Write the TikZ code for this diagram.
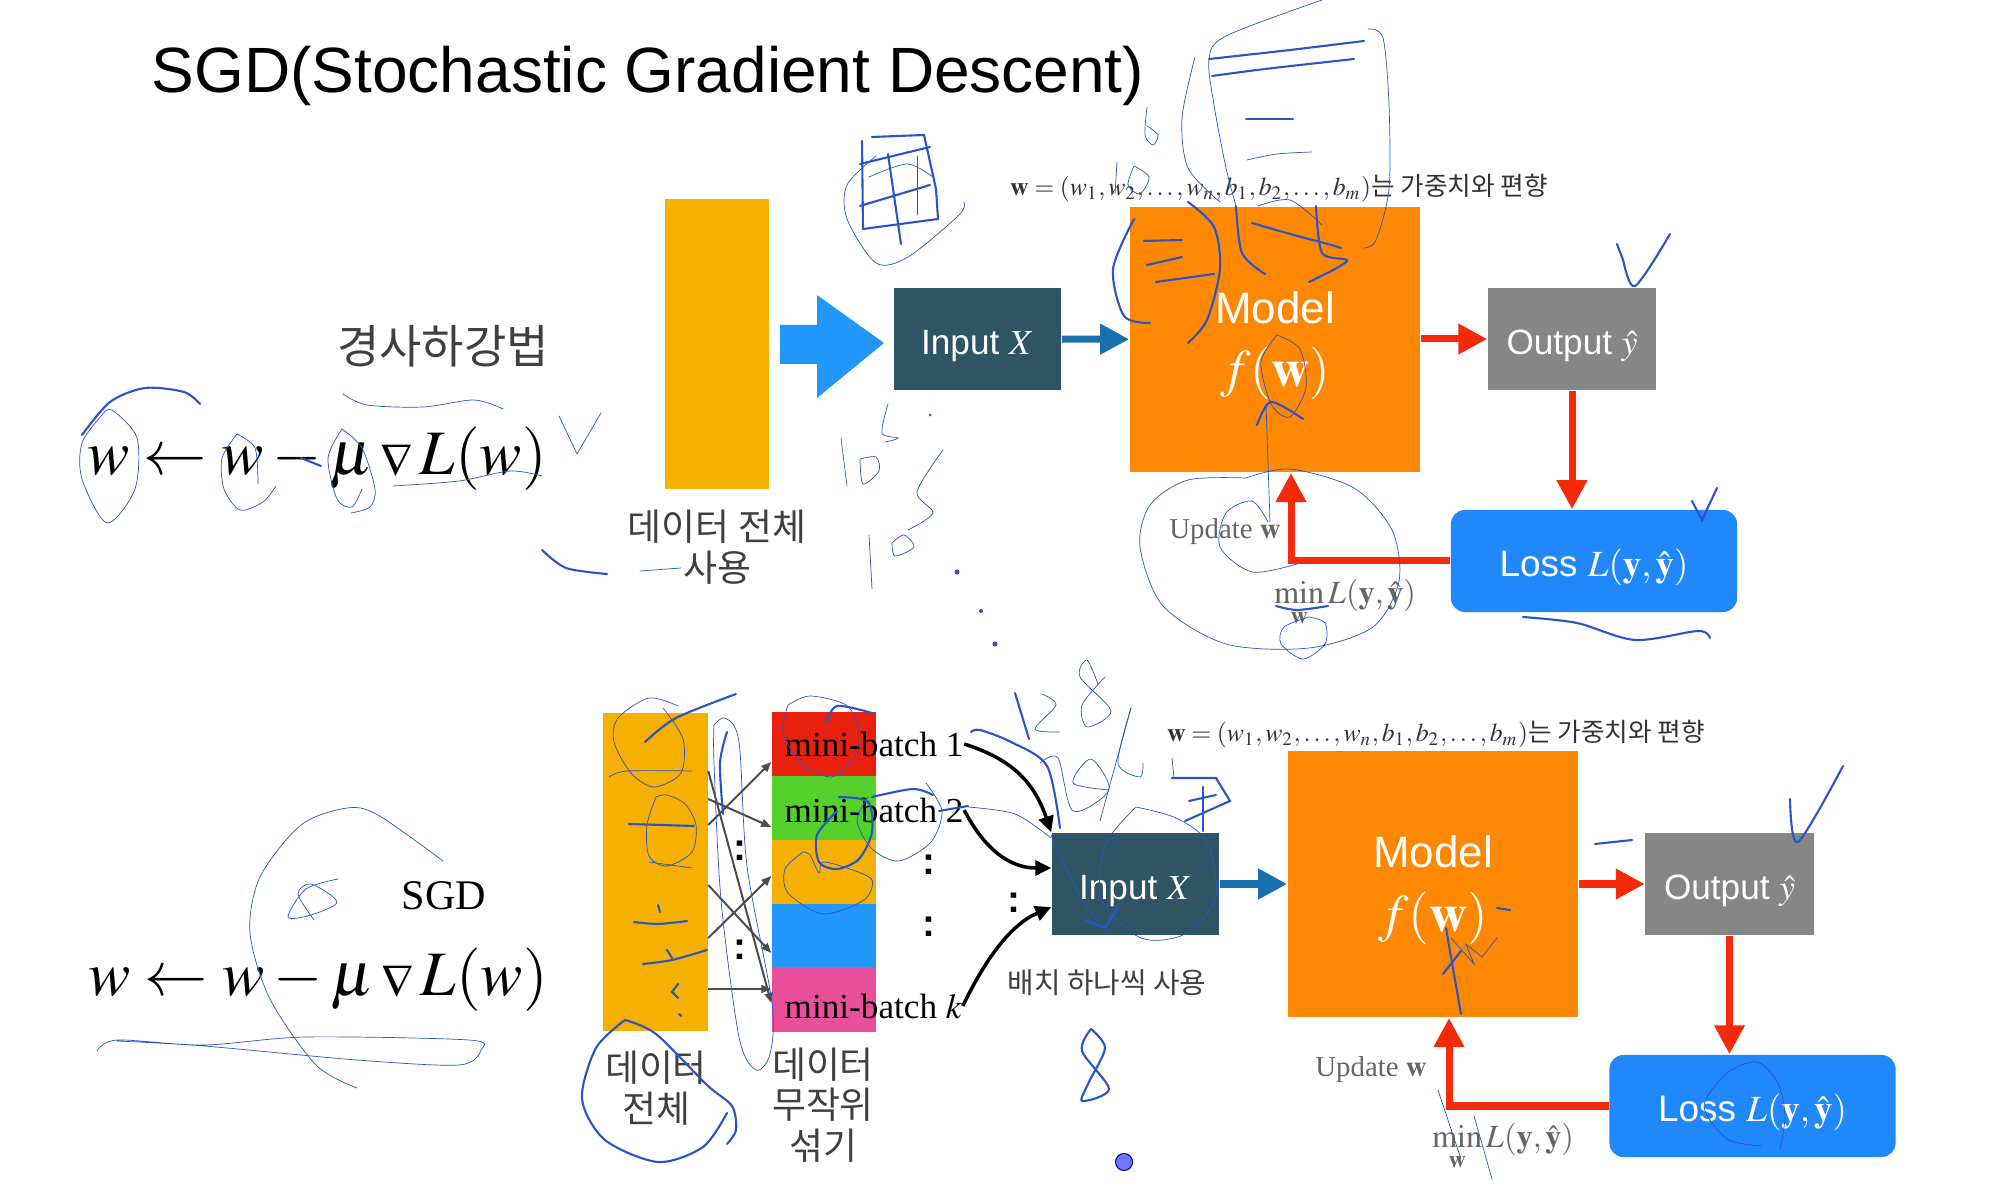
\documentclass[tikz,border=0pt]{standalone}
\usepackage{amsmath}
\usepackage{graphicx}
\usepackage{mathptmx}
\usepackage[no-math]{fontspec}
\setmainfont{Liberation Serif}
\setsansfont{Liberation Sans}
\newfontfamily\korean{Noto Sans CJK KR}
\usepackage{xcolor}
\usepackage{tikz}
\usetikzlibrary{arrows.meta, calc}
\definecolor{baryellow}{HTML}{F6B000}
\definecolor{bigblue}{HTML}{2196FB}
\definecolor{inputdark}{HTML}{2F5464}
\definecolor{modelorange}{HTML}{FE8801}
\definecolor{outputgray}{HTML}{868686}
\definecolor{lossblue}{HTML}{2088FB}
\definecolor{flowred}{HTML}{F52A0A}
\definecolor{flowblue}{HTML}{1A6FAE}
\definecolor{batchred}{HTML}{E8200D}
\definecolor{batchgreen}{HTML}{55CF2A}
\definecolor{batchpink}{HTML}{EA4F9C}
\definecolor{inkblue}{HTML}{2A55C8}
\tikzset{
    inputbox/.style={fill=inputdark, text=white, inner sep=0pt, minimum width=1.67cm, minimum height=1.02cm, text height=9pt, text depth=0pt, font=\sffamily\fontsize{10}{12}\selectfont},
    modelbox/.style={fill=modelorange, text=white, inner sep=0pt, minimum width=2.90cm, minimum height=2.65cm, align=center, font=\sffamily\fontsize{12.5}{19}\selectfont},
    outputbox/.style={fill=outputgray, text=white, inner sep=0pt, minimum width=1.68cm, minimum height=1.02cm, text height=9pt, text depth=0pt, font=\sffamily\fontsize{10}{12}\selectfont},
    lossbox/.style={fill=lossblue, text=white, inner sep=0pt, rounded corners=0.14cm, minimum width=2.86cm, minimum height=1.02cm, text height=9pt, text depth=0pt, font=\sffamily\fontsize{10.5}{12}\selectfont},
    barbox/.style={fill=baryellow, inner sep=0pt, minimum width=1.04cm},
    batchbox/.style={inner sep=0pt, minimum width=1.04cm, minimum height=0.64cm},
    korlabel/.style={align=center, inner sep=0pt, font=\korean\fontsize{10.5}{11.6}\selectfont, text=black!75},
    batchlabel/.style={inner sep=0pt, anchor=west, font=\fontsize{10}{12}\selectfont},
    weightlabel/.style={inner sep=0pt, font=\fontsize{7.3}{9}\selectfont, text=black!80},
    graylabel/.style={inner sep=0pt, font=\fontsize{8.2}{10}\selectfont, text=black!60},
    minlabel/.style={inner sep=0pt, font=\fontsize{9.2}{11}\selectfont, text=black!60},
    eqlabel/.style={inner sep=0pt, font=\fontsize{18}{22}\selectfont},
    colondots/.style={inner sep=0pt, font=\sffamily\bfseries\fontsize{11}{12}\selectfont},
    redflow/.style={draw=flowred, line width=0.07cm, -{Triangle[length=0.29cm, width=0.29cm]}},
    blueflow/.style={draw=flowblue, line width=0.07cm, -{Triangle[length=0.29cm, width=0.29cm]}},
    mixarrow/.style={draw=black!70, line width=0.02cm, -{Triangle[length=0.1cm, width=0.08cm]}},
    batcharrow/.style={draw=black, line width=0.035cm, -{Triangle[length=0.16cm, width=0.15cm]}},
    inkthin/.style={draw=inkblue, line width=0.2pt, line cap=round},
    inkthick/.style={draw=inkblue, line width=0.6pt, line cap=round},
}
\newcommand{\descenteq}{$w \leftarrow w - \mu \,\raisebox{-0.5pt}{\scalebox{0.72}{$\nabla$}}\, L(w)$}
\newcommand{\modeltext}{\rule{0pt}{12.6pt}Model\\[-1pt]{\fontsize{15}{18}\selectfont$f(\mathbf{w})$}}
\begin{document}
\begin{tikzpicture}[x=0.01cm, y=-0.01cm]
\useasboundingbox (0,0) rectangle (2000,1198);
\fill[white] (0,0) rectangle (2000,1198);
\node[inner sep=0pt, font=\sffamily\fontsize{18.2}{22}\selectfont] (titlelabel) at (648,76) {SGD(Stochastic Gradient Descent)};
\node[korlabel, font=\korean\fontsize{13.1}{15}\selectfont] (gradlabel) at (443,346) {경사하강법};
\node[eqlabel] (gradeq) at (317,459) {\descenteq};
\node[barbox, minimum height=2.89cm] (barfulla) at (717,344) {};
\node[korlabel] (barfullatext) at (717,547) {데이터 전체\\사용};
\fill[bigblue] (780,325) -- (817,325) -- (817,295) -- (884,343) -- (817,398) -- (817,364) -- (780,364) -- cycle;
\node[inputbox] (inputa) at (977.5,339) {Input $X$};
\node[modelbox] (modela) at (1275,339.5) {\modeltext};
\node[outputbox] (outputa) at (1572,339) {Output $\hat{y}$};
\node[lossbox] (lossa) at (1594,561) {Loss $L(\mathbf{y},\hat{\mathbf{y}})$};
\coordinate (updatea) at (1291,473);
\node[weightlabel] (weighta) at (1279,188) {$\mathbf{w}=(w_1,w_2,\ldots,w_n,b_1,b_2,\ldots,b_m)${\korean 는 가중치와 편향}};
\node[graylabel] (updatealabel) at (1225,532) {Update $\mathbf{w}$};
\node[minlabel] (minalabel) at (1345,603) {$\min\limits_{\mathbf{w}} L(\mathbf{y},\hat{\mathbf{y}})$};
\draw[blueflow] (inputa) -- (modela);
\draw[redflow] (modela.east |- inputa) -- (outputa.west);
\draw[redflow] (outputa) -- (outputa |- lossa.north);
\draw[redflow] (lossa.west) -| (updatea);
\node[inner sep=0pt, font=\fontsize{12}{14}\selectfont] (sgdlabel) at (444,896) {SGD};
\node[eqlabel] (sgdeq) at (318,980) {\descenteq};
\node[barbox, minimum height=3.18cm] (barfullb) at (655.5,872) {};
\node[batchbox, fill=batchred] (batcha) at (824,744) {};
\node[batchbox, fill=batchgreen] (batchb) at (824,808) {};
\node[batchbox, fill=baryellow] (batchc) at (824,872) {};
\node[batchbox, fill=bigblue] (batchd) at (824,936) {};
\node[batchbox, fill=batchpink] (batche) at (824,999.5) {};
\node[batchlabel] (batchatext) at (784,744) {mini-batch 1};
\node[batchlabel] (batchbtext) at (784,810) {mini-batch 2};
\node[batchlabel] (batchetext) at (784,1006) {mini-batch $k$};
\node[korlabel] (barfullbtext) at (656,1088) {데이터\\전체};
\node[korlabel] (mixtext) at (823,1105) {데이터\\무작위\\섞기};
\node[colondots] (dotsa) at (740,851) {:};
\node[colondots] (dotsb) at (740,950) {:};
\node[colondots] (dotsc) at (929,865) {:};
\node[colondots] (dotsd) at (929,927) {:};
\node[colondots] (dotse) at (1014,903) {:};
\node[inputbox] (inputb) at (1135.5,884) {Input $X$};
\node[modelbox] (modelb) at (1433,884) {\modeltext};
\node[outputbox] (outputb) at (1729.5,884) {Output $\hat{y}$};
\node[lossbox] (lossb) at (1752.5,1106) {Loss $L(\mathbf{y},\hat{\mathbf{y}})$};
\coordinate (updateb) at (1449,1018);
\node[weightlabel] (weightb) at (1436,734) {$\mathbf{w}=(w_1,w_2,\ldots,w_n,b_1,b_2,\ldots,b_m)${\korean 는 가중치와 편향}};
\node[graylabel] (updateblabel) at (1371,1070) {Update $\mathbf{w}$};
\node[minlabel] (minblabel) at (1503,1147) {$\min\limits_{\mathbf{w}} L(\mathbf{y},\hat{\mathbf{y}})$};
\node[korlabel, font=\korean\fontsize{8.2}{10}\selectfont] (singlelabel) at (1107,983) {배치 하나씩 사용};
\draw[blueflow] (inputb) -- (modelb);
\draw[redflow] (modelb.east |- inputb) -- (outputb.west);
\draw[redflow] (outputb) -- (outputb |- lossb.north);
\draw[redflow] (lossb.west) -| (updateb);
\draw[mixarrow] (barfullb.east |- 0,771) -- (batche.west |- 0,1003);
\draw[mixarrow] (barfullb.east |- 0,799) -- (batchb.west |- 0,827);
\draw[mixarrow] (barfullb.east |- 0,825) -- (batcha.west |- 0,762);
\draw[mixarrow] (barfullb.east |- 0,885) -- (batchd.west |- 0,953);
\draw[mixarrow] (barfullb.east |- 0,938) -- (batchc.west |- 0,876);
\draw[mixarrow] (barfullb.east |- 0,989) -- (batche.west |- 0,989);
\draw[batcharrow] (batchatext.east) .. controls (1015,760) and (1035,785) .. (inputb.north west);
\draw[batcharrow] (batchbtext.east) .. controls (985,850) and (1010,868) .. (inputb.west |- 0,868);
\draw[batcharrow] (batchetext.east) .. controls (985,960) and (1010,925) .. (inputb.west |- 0,907);
\node[circle, fill=blue!55!white, draw=blue!50!black, line width=0.3pt, inner sep=0pt, minimum size=0.17cm] (penmark) at (1124,1162) {};
\draw[inkthin] plot[smooth] coordinates {(1322,0) (1226,36) (1209,59) (1214,105) (1226,168) (1236,206)};
\draw[inkthick] plot[smooth] coordinates {(1209,59) (1290,50) (1364,41)};
\draw[inkthick] plot[smooth] coordinates {(1212,76) (1265,69) (1354,59)};
\draw[inkthin] plot[smooth] coordinates {(1368,29) (1383,38) (1389,105) (1389,189) (1376,240) (1364,248)};
\draw[inkthin] plot[smooth] coordinates {(1195,57) (1182,118) (1188,168) (1220,202)};
\draw[inkthick] (1246,119) -- (1293,119);
\draw[inkthin] plot[smooth] coordinates {(1247,160) (1277,154) (1312,152)};
\draw[inkthin] plot[smooth] coordinates {(1147,107) (1145,135) (1153,145) (1158,135) (1147,126)};
\draw[inkthin] (1117,162) -- (1115,194);
\draw[inkthin] plot[smooth] coordinates {(1134,166) (1128,185) (1140,194) (1149,177) (1134,166)};
\draw[inkthin] plot[smooth] coordinates {(876,156) (847,185) (847,219) (876,263) (908,257) (959,215) (964,202)};
\draw[inkthick] (872,137) -- (924,135) -- (936,189) -- (938,219) -- (863,229);
\draw[inkthick] (860,164) -- (930,147);
\draw[inkthick] (860,206) -- (930,185);
\draw[inkthick] (862,141) -- (863,229);
\draw[inkthick] (888,154) -- (901,244);
\draw[inkthin] (917,156) -- (917,215);
\draw[inkthin] plot[smooth] coordinates {(869,177) (907,164) (933,177)};
\draw[inkthick] plot[smooth] coordinates {(1134,219) (1113,269) (1124,316) (1150,323)};
\draw[inkthick] (1144,241) -- (1182,240);
\draw[inkthick] (1147,265) -- (1182,257);
\draw[inkthick] (1156,282) -- (1214,274);
\draw[inkthick] plot[smooth] coordinates {(1188,202) (1214,227) (1220,269) (1207,320) (1188,343)};
\draw[inkthick] plot[smooth] coordinates {(1236,206) (1242,253) (1265,274)};
\draw[inkthick] plot[smooth] coordinates {(1252,223) (1290,234) (1328,244) (1341,248)};
\draw[inkthick] plot[smooth] coordinates {(1316,206) (1322,253) (1347,261) (1309,282)};
\draw[inkthin] plot[smooth] coordinates {(1258,206) (1290,200) (1322,225)};
\draw[inkthin] plot[smooth] coordinates {(1277,335) (1261,362) (1271,404) (1290,417) (1306,387) (1300,349) (1277,335)};
\draw[inkthick] plot[smooth] coordinates {(1257,425) (1271,402) (1303,419)};
\draw[inkthin] (1266,404) -- (1270,522);
\draw[inkthin] plot[smooth] coordinates {(1246,478) (1188,480) (1150,505) (1140,547) (1163,606) (1226,644) (1309,648) (1373,627) (1399,581) (1392,530) (1354,488) (1290,469) (1246,478)};
\draw[inkthin] plot[smooth] coordinates {(1268,522) (1252,501) (1226,513) (1220,547) (1252,572) (1297,564)};
\draw[inkthick] plot[smooth] coordinates {(1276,606) (1297,610) (1328,606)};
\draw[inkthin] plot[smooth] coordinates {(1309,617) (1284,627) (1281,644) (1303,659) (1325,644) (1325,623) (1309,617)};
\draw[inkthick] plot[smooth] coordinates {(1617,244) (1622,257) (1635,286) (1670,234)};
\draw[inkthick] (1692,501) -- (1702,520) -- (1717,488);
\draw[inkthick] plot[smooth] coordinates {(1523,617) (1577,623) (1635,640) (1698,631) (1710,638)};
\draw[inkthin] (841,438) -- (847,486);
\draw[inkthin] plot[smooth] coordinates {(860,459) (863,484) (879,471) (876,457) (860,459)};
\draw[inkthin] plot[smooth] coordinates {(888,404) (882,433) (898,438) (885,442)};
\draw[inkthin] plot[smooth] coordinates {(943,450) (917,492) (933,513) (908,530)};
\draw[inkthin] (869,535) -- (872,589);
\draw[inkthin] plot[smooth] coordinates {(892,543) (895,556) (914,547) (904,535) (892,543)};
\fill[inkblue] (930,415) circle (1.5) (957,572) circle (2.5) (981,611) circle (2) (995,644) circle (2.5);
\draw[inkthin] plot[smooth] coordinates {(102,415) (82,443) (82,479) (107,523) (135,489) (137,438) (112,410) (102,415)};
\draw[inkthick] plot[smooth] coordinates {(82,435) (110,402) (145,388) (184,392) (200,404)};
\draw[inkthin] plot[smooth] coordinates {(237,434) (222,458) (224,489) (240,510) (263,502) (276,486)};
\draw[inkthin] plot[smooth] coordinates {(237,434) (255,448) (258,484)};
\draw[inkthick] (301,458) -- (321,466);
\draw[inkthin] plot[smooth] coordinates {(342,429) (328,458) (337,499) (352,507) (362,489)};
\draw[inkthin] plot[smooth] coordinates {(342,429) (362,448) (375,489) (370,507) (351,513)};
\draw[inkthin] plot[smooth] coordinates {(393,486) (459,481) (510,471) (542,476)};
\draw[inkthin] plot[smooth] coordinates {(343,394) (367,405) (423,407) (474,400) (503,409)};
\draw[inkthin] (559,416) -- (577,454) -- (601,413);
\draw[inkthick] plot[smooth] coordinates {(542,550) (566,568) (607,574)};
\draw[inkthin] (640,571) -- (681,568);
\draw[inkthin] plot[smooth] coordinates {(443,861) (378,815) (347,808) (301,825) (260,877) (250,933) (270,999) (316,1065) (357,1088)};
\draw[inkthin] plot[smooth] coordinates {(338,879) (306,889) (288,917) (311,915) (337,902) (311,884) (298,894) (314,920)};
\draw[inkthin] plot[smooth] coordinates {(97,1051) (117,1040) (204,1045) (306,1037) (469,1040) (481,1050) (459,1065) (357,1060) (204,1046) (117,1041)};
\draw[inkthin] plot[smooth] coordinates {(678,706) (649,698) (618,718) (614,742) (631,773) (654,787) (681,773) (683,739) (663,708)};
\draw[inkthick] plot[smooth] coordinates {(645,742) (676,718) (736,694)};
\draw[inkthin] plot[smooth] coordinates {(609,777) (627,771) (692,771)};
\draw[inkthick] (629,824) -- (694,826);
\draw[inkthin] plot[smooth] coordinates {(656,797) (647,825) (649,856) (667,866) (692,852) (696,825) (685,804) (667,795) (656,797)};
\draw[inkthin] (649,862) -- (692,868);
\draw[inkthick] (658,905) -- (660,912);
\draw[inkthick] plot[smooth] coordinates {(634,922) (658,924) (687,921)};
\draw[inkthick] plot[smooth] coordinates {(643,964) (672,960) (707,950)};
\draw[inkthick] (667,950) -- (672,958);
\draw[inkthick] (678,984) -- (672,992) -- (678,998);
\draw[inkthick] (679,1014) -- (681,1016);
\draw[inkthin] plot[smooth] coordinates {(714,725) (725,718) (739,742) (747,866) (772,1003) (770,1054) (756,1070) (739,1037) (721,900) (714,763) (714,725)};
\draw[inkthick] plot[smooth] coordinates {(727,732) (720,763) (723,814)};
\draw[inkthin] plot[smooth] coordinates {(788,705) (783,732) (801,763) (832,777) (855,756) (859,729) (846,705) (810,696) (788,705)};
\draw[inkthick] plot[smooth] coordinates {(826,723) (837,706) (872,713)};
\draw[inkthick] plot[smooth] coordinates {(839,797) (868,802) (872,832) (859,859) (837,869) (819,862) (817,835) (837,811)};
\draw[inkthick] plot[smooth] coordinates {(872,797) (913,789) (933,795)};
\draw[inkthin] plot[smooth] coordinates {(926,783) (942,811) (931,842) (899,861) (872,849) (857,821) (868,797)};
\draw[inkthin] plot[smooth] coordinates {(803,852) (785,869) (788,893) (823,914) (864,900) (872,880) (850,869) (823,862) (819,873) (810,855) (803,852)};
\draw[inkthick] (939,811) -- (968,806);
\draw[inkthin] plot[smooth] coordinates {(968,807) (1015,814) (1051,838)};
\draw[inkthick] plot[smooth] coordinates {(971,732) (980,730) (1011,742) (1047,766) (1060,828)};
\draw[inkthick] (1015,693) -- (1029,739);
\draw[inkthin] plot[smooth] coordinates {(1042,694) (1056,705) (1035,729) (1060,732)};
\draw[inkthin] plot[smooth] coordinates {(1098,684) (1087,660) (1080,677) (1111,711) (1087,727) (1082,705) (1105,677)};
\draw[inkthin] plot[smooth] coordinates {(1040,763) (1058,758) (1073,811) (1109,790) (1091,759) (1073,783) (1109,790)};
\draw[inkthin] plot[smooth] coordinates {(1131,708) (1118,763) (1140,777) (1143,763)};
\draw[inkthin] (1131,708) -- (1100,821);
\draw[inkthin] (1172,758) -- (1174,778);
\draw[inkthick] (1172,778) -- (1216,778) -- (1230,801) -- (1185,821);
\draw[inkthick] (1189,801) -- (1216,795);
\draw[inkthick] (1203,787) -- (1203,831);
\draw[inkthin] plot[smooth] coordinates {(1136,807) (1105,845) (1102,900) (1141,938) (1185,934) (1216,897) (1207,842) (1176,818) (1136,807)};
\draw[inkthin] plot[smooth] coordinates {(1051,835) (1082,900) (1105,928)};
\draw[inkthick] (1086,920) -- (1105,928) -- (1118,907);
\draw[inkthick] plot[smooth] coordinates {(1091,1029) (1082,1051) (1109,1089) (1082,1101) (1089,1082) (1105,1048) (1091,1029)};
\draw[inkthick] plot[smooth] coordinates {(625,1020) (596,1048) (582,1099) (605,1140) (658,1162) (703,1147) (727,1113)};
\draw[inkthick] plot[smooth] coordinates {(625,1020) (656,1034) (707,1085) (732,1106) (736,1130) (727,1144)};
\draw[inkthick] plot[smooth] coordinates {(1790,799) (1798,842) (1843,766)};
\draw[inkthick] (1595,844) -- (1632,840);
\draw[inkthick] (1497,908) -- (1510,910);
\draw[inkthick] plot[smooth] coordinates {(1446,928) (1451,957) (1461,1014)};
\draw[inkthick] (1443,974) -- (1461,951);
\draw[inkthin] (1451,938) -- (1474,964) -- (1466,944) -- (1482,957) -- (1497,938);
\draw[inkthin] (1438,1090) -- (1461,1159);
\draw[inkthin] (1474,1116) -- (1492,1179);
\draw[inkthin] plot[smooth] coordinates {(1762,1146) (1727,1139) (1704,1106) (1727,1073) (1757,1062) (1778,1083) (1785,1116) (1780,1149)};
\end{tikzpicture}
\end{document}
